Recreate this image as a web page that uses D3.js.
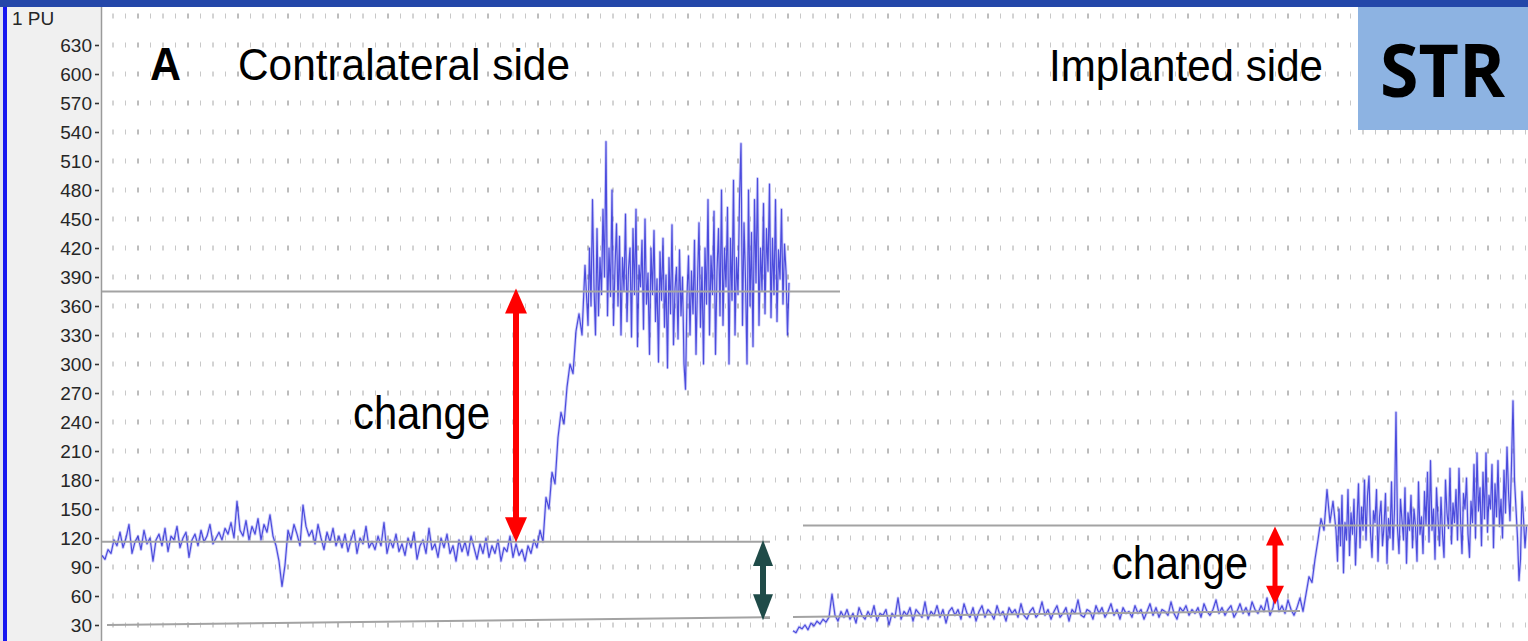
<!DOCTYPE html>
<html>
<head>
<meta charset="utf-8">
<script src="https://cdn.jsdelivr.net/npm/d3@7"></script>
<style>
  html, body { margin: 0; padding: 0; background: #ffffff; }
  svg { display: block; }
</style>
</head>
<body>
<svg id="chart" width="1528" height="641"></svg>
<script>
// Laser Doppler perfusion (PU) recordings, striatum, both sides.
const yTicks = [30, 60, 90, 120, 150, 180, 210, 240, 270, 300, 330, 360, 390, 420, 450, 480, 510, 540, 570, 600, 630];
const unitLabel = "1 PU";

// sampling: 0.6 s for resting segments, 0.3 s for the high-flow segments
const baseStep = 0.6;
const fineStep = 0.3;
const contraStart = -7.2;
const contraPlateauStart = 90.0;
const implantStart = 131.0;
const implantPlateauStart = 239.6;

// Contralateral side: resting level and onset of the response (PU)
const contraValues = [
  102, 98, 108, 104, 118, 112, 126, 110, 120, 134,
  104, 116, 122, 108, 128, 114, 120, 96, 118, 124,
  112, 130, 106, 122, 118, 132, 110, 120, 126, 100,
  118, 124, 112, 128, 116, 122, 134, 114, 120, 126,
  118, 130, 124, 136, 120, 158, 128, 122, 138, 118,
  132, 124, 140, 118, 134, 126, 144, 122, 112, 96,
  70, 92, 128, 118, 134, 124, 112, 154, 132, 122,
  128, 114, 134, 120, 108, 126, 116, 130, 112, 122,
  110, 124, 106, 118, 128, 104, 120, 114, 132, 110,
  116, 108, 122, 112, 136, 104, 118, 110, 124, 106,
  114, 102, 120, 110, 126, 98, 112, 118, 104, 130,
  108, 114, 100, 120, 110, 124, 104, 112, 96, 118,
  106, 116, 102, 122, 110, 98, 114, 104, 120, 100,
  112, 104, 118, 96, 110, 106, 122, 100, 114, 102,
  108, 96, 112, 104, 118, 110, 128, 116, 162, 150,
  188, 176, 224, 250, 238, 276, 300, 290, 334, 352,
  330, 402
];

// Contralateral side: response plateau (PU)
const contraPlateauValues = [
  340, 420, 360, 470, 380, 330, 440, 350, 410, 372,
  460, 390, 530, 350, 420, 370, 480, 340, 400, 445,
  360, 432, 330, 410, 376, 455, 344, 398, 420, 328,
  440, 372, 460, 318, 402, 380, 428, 336, 450, 362,
  394, 310, 420, 372, 438, 344, 388, 302, 416, 366,
  430, 338, 392, 296, 410, 352, 444, 320, 378, 400,
  326, 418, 350, 390, 300, 274, 370, 412, 330, 396,
  352, 428, 310, 384, 446, 338, 400, 300, 420, 362,
  470, 330, 412, 372, 458, 310, 396, 440, 350, 480,
  340, 420, 380, 462, 300, 430, 366, 490, 330, 410,
  372, 470, 528, 340, 446, 388, 300, 480, 360, 436,
  318, 470, 384, 492, 340, 420, 376, 466, 352, 440,
  396, 486, 348, 430, 372, 470, 344, 418, 388, 460,
  362, 424, 396, 330, 384
];

// Implanted side: resting level and onset of the response (PU)
const implantValues = [
  24, 22, 28, 26, 30, 25, 32, 29, 34, 31, 36, 33, 38,
  62,
  40, 34, 44, 38, 46, 36, 42, 32, 48, 40,
  36, 44, 38, 50, 34, 42, 40, 46, 30, 42,
  38, 58, 36, 44, 40, 48, 34, 46, 42, 38,
  54, 36, 44, 40, 50, 38, 46, 32, 44, 48,
  40, 46, 36, 52, 42, 38, 48, 34, 44, 50,
  38, 46, 42, 36, 50, 40, 44, 34, 48, 42,
  46, 38, 52, 40, 36, 44, 48, 38, 42, 54,
  40, 46, 36, 44, 50, 38, 42, 48, 34, 46,
  42, 56, 40, 38, 46, 44, 36, 50, 42, 48,
  38, 44, 52, 40, 46, 36, 48, 42, 44, 38,
  50, 42, 46, 36, 44, 52, 40, 48, 38, 46,
  44, 40, 54, 42, 36, 48, 44, 50, 40, 46,
  42, 48, 38, 52, 44, 40, 46, 56, 42, 48,
  40, 46, 50, 38, 44, 52, 42, 48, 40, 54,
  46, 42, 50, 44, 58, 40, 48, 68, 44, 50,
  42, 56, 46, 40, 48,
  58, 44, 62, 80, 74, 98, 118, 140, 128, 170, 136, 158
];

// Implanted side: response plateau (PU)
const implantPlateauValues = [
  128, 96, 150, 112, 164, 84, 136, 118, 170, 102,
  146, 124, 160, 92, 138, 176, 110, 152, 128, 180,
  118, 164, 184, 126, 100, 148, 136, 170, 96, 142,
  158, 112, 132, 166, 94, 140, 120, 178, 108, 150,
  250, 130, 104, 160, 138, 118, 172, 94, 146, 128,
  164, 110, 150, 132, 96, 178, 124, 142, 104, 168,
  134, 188, 116, 200, 128, 150, 98, 172, 140, 112,
  162, 124, 100, 180, 146, 130, 192, 114, 156, 136,
  170, 118, 192, 140, 104, 166, 150, 182, 124, 100,
  158, 136, 196, 120, 208, 148, 172, 112, 188, 140,
  208, 126, 164, 150, 196, 110, 176, 142, 200, 132,
  160, 120, 190, 146, 214, 168, 138, 196, 262, 180,
  150, 120, 76, 98, 168, 140, 110, 132
];

// Reference levels: [t1, v1, t2, v2]
const refLines = [
  [-7.2, 375, 140.4, 375],
  [-7.2, 116, 126.4, 116],
  [-6.2, 30, 126.4, 38],
  [131.0, 38.3, 232.4, 44.5],
  [133.0, 133, 278, 133]
];

// Double-headed arrows: [t, v1, v2, colour, shaft, headWidth, headLength]
const arrows = [
  [75.6, 115.5, 378, "#ff0000", 6, 22, 25],
  [125.0, 118, 35, "#1f4b48", 6, 20, 26],
  [227.4, 132, 51, "#ff0000", 5, 18, 19]
];

const titleTexts = [
  { text: "A", t: 2.4, v: 594, size: 46, weight: 700, len: 31 },
  { text: "Contralateral side", t: 20, v: 594, size: 44, weight: 400, len: 332 },
  { text: "Implanted side", t: 182.2, v: 592.5, size: 44, weight: 400, len: 274 },
  { text: "change", t: 43, v: 233, size: 46, weight: 400, len: 137 },
  { text: "change", t: 194.8, v: 78, size: 46, weight: 400, len: 136 }
];

const W = 1528, H = 641;
const plotLeft = 102, topBar = 7;

const svg = d3.select("#chart");

const x = d3.scaleLinear().domain([-7.2, 278]).range([plotLeft, W]);
const y = d3.scaleLinear().domain([30, 630]).range([625, 45]);

// background panels
svg.append("rect").attr("x", 0).attr("y", 0).attr("width", W).attr("height", H).attr("fill", "#ffffff");
svg.append("rect").attr("x", 0).attr("y", 0).attr("width", 3).attr("height", H).attr("fill", "#dfe0ee");
svg.append("rect").attr("x", 3).attr("y", 0).attr("width", 4).attr("height", H).attr("fill", "#1616f0");
svg.append("rect").attr("x", 7).attr("y", topBar).attr("width", plotLeft - 7).attr("height", H - topBar).attr("fill", "#f0f0f0");
svg.append("line").attr("x1", plotLeft - 0.5).attr("x2", plotLeft - 0.5).attr("y1", topBar).attr("y2", H)
  .attr("stroke", "#9a9a9a").attr("stroke-width", 1.5);

// dotted grid
const gridRows = d3.range(30, 661, 30);
const gridCols = d3.range(-5, 278.1, 2.5);
const grid = svg.append("g");
gridRows.forEach(v => {
  gridCols.forEach(t => {
    const major = Math.abs(t % 10) < 1e-6;
    const mid = !major && Math.abs(t % 5) < 1e-6;
    grid.append("line")
      .attr("x1", x(t)).attr("x2", x(t))
      .attr("y1", y(v) - 2.5).attr("y2", y(v) + 2.5)
      .attr("stroke", major ? "#7a7a7a" : (mid ? "#a8a8a8" : "#c8c8c8"))
      .attr("stroke-width", 1);
  });
});

// y axis
const axis = d3.axisLeft(y).tickValues(yTicks).tickSize(4).tickPadding(3).tickFormat(d3.format("d"));
const axG = svg.append("g").attr("transform", `translate(${plotLeft - 3},0)`).call(axis);
axG.select(".domain").remove();
axG.selectAll(".tick line").attr("stroke", "#333").attr("stroke-width", 1.6);
axG.selectAll(".tick text").attr("fill", "#262626")
  .style("font-family", "'Liberation Sans', Arial, sans-serif").style("font-size", "19px");

svg.append("text").attr("x", 12).attr("y", 25).text(unitLabel)
  .attr("fill", "#262626").style("font-family", "'Liberation Sans', Arial, sans-serif").style("font-size", "19px");

// clip for plot area
svg.append("clipPath").attr("id", "plotClip").append("rect")
  .attr("x", plotLeft).attr("y", topBar).attr("width", W - plotLeft).attr("height", H - topBar);

const plot = svg.append("g").attr("clip-path", "url(#plotClip)");

const line = d3.line().x(d => x(d[0])).y(d => y(d[1]));
const toSeries = (start, step, vals) => vals.map((v, i) => [start + i * step, v]);

const traces = [
  toSeries(contraStart, baseStep, contraValues).concat(toSeries(contraPlateauStart, fineStep, contraPlateauValues)),
  toSeries(implantStart, baseStep, implantValues).concat(toSeries(implantPlateauStart, fineStep, implantPlateauValues))
];

traces.forEach(s => {
  // soft wide stroke underneath, sharper trace on top
  plot.append("path").datum(s).attr("d", line)
    .attr("fill", "none").attr("stroke", "#6a6af0").attr("stroke-width", 3)
    .attr("stroke-opacity", 0.3).attr("stroke-linejoin", "round");
  plot.append("path").datum(s).attr("d", line)
    .attr("fill", "none").attr("stroke", "#2a2ad6").attr("stroke-width", 1.2)
    .attr("stroke-opacity", 0.8).attr("stroke-linejoin", "round");
});

// reference levels
plot.selectAll(".ref").data(refLines).enter().append("line")
  .attr("x1", d => x(d[0])).attr("y1", d => y(d[1]))
  .attr("x2", d => x(d[2])).attr("y2", d => y(d[3]))
  .attr("stroke", "#a3a3a3").attr("stroke-width", 2);

// arrows
arrows.forEach(([t, v1, v2, col, sw, hw, hl]) => {
  const cx = x(t);
  const yTop = Math.min(y(v1), y(v2));
  const yBot = Math.max(y(v1), y(v2));
  const g = plot.append("g");
  g.append("rect").attr("x", cx - sw / 2).attr("y", yTop + hl - 2)
    .attr("width", sw).attr("height", yBot - yTop - 2 * hl + 4).attr("fill", col);
  g.append("path").attr("d", `M${cx},${yTop} L${cx + hw / 2},${yTop + hl} L${cx - hw / 2},${yTop + hl} Z`).attr("fill", col);
  g.append("path").attr("d", `M${cx},${yBot} L${cx + hw / 2},${yBot - hl} L${cx - hw / 2},${yBot - hl} Z`).attr("fill", col);
});

// labels
titleTexts.forEach(d => {
  svg.append("text").attr("x", x(d.t)).attr("y", y(d.v)).text(d.text)
    .attr("fill", "#000")
    .attr("textLength", d.len).attr("lengthAdjust", "spacingAndGlyphs")
    .style("font-family", "'Liberation Sans', Arial, sans-serif")
    .style("font-size", d.size + "px").style("font-weight", d.weight);
});

// region tag
svg.append("rect").attr("x", 1358).attr("y", topBar).attr("width", W - 1358).attr("height", 123).attr("fill", "#8db3e2");
svg.append("text").attr("x", 1380).attr("y", 97).text("STR")
  .attr("textLength", 125).attr("lengthAdjust", "spacingAndGlyphs")
  .style("font-family", "'Open Sans', Lato, sans-serif").style("font-size", "74px").style("font-weight", 700)
  .attr("fill", "#000");

// top bar
svg.append("rect").attr("x", 0).attr("y", 0).attr("width", W).attr("height", topBar).attr("fill", "#2447a9");
</script>
</body>
</html>
